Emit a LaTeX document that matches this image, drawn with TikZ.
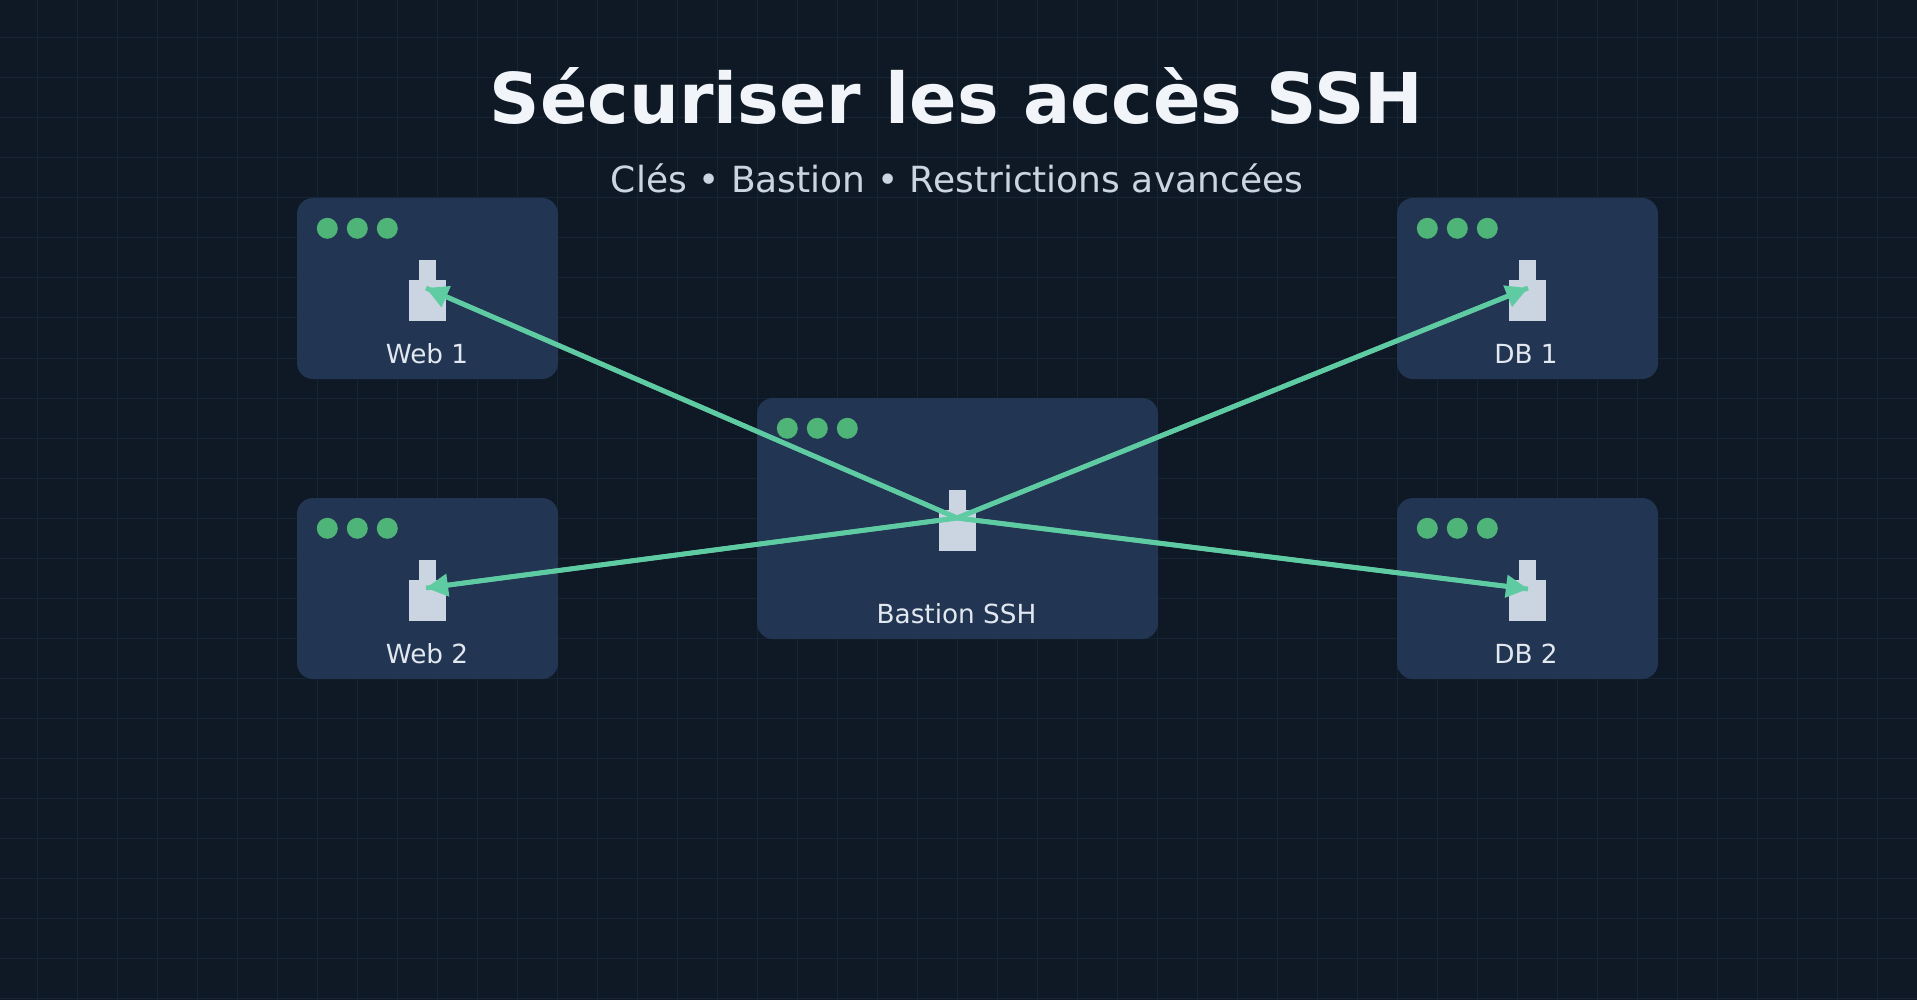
\documentclass[tikz,border=0pt]{standalone}
\usepackage{fontspec}
\setmainfont{DejaVu Sans}
\usetikzlibrary{arrows.meta}
\definecolor{bgc}{HTML}{0E1925}
\definecolor{gridc}{HTML}{162536}
\definecolor{boxc}{HTML}{223552}
\definecolor{dotc}{HTML}{4FB477}
\definecolor{iconc}{HTML}{CBD5E1}
\definecolor{linkc}{HTML}{5FCBA2}
\definecolor{titlec}{HTML}{F1F5F9}
\definecolor{labelc}{HTML}{E2E8F0}
\tikzset{
  x=1pt,y=-1pt,
  hostbox/.style={fill=boxc,rounded corners=16pt,draw=none},
  led/.style={circle,fill=dotc,minimum size=21pt,inner sep=0pt,draw=none},
  iconpart/.style={fill=iconc,draw=none},
  hostlabel/.style={text=labelc,anchor=base,font=\fontsize{26.3}{30}\selectfont,inner sep=0pt},
  link/.style={draw=linkc,line width=4.8pt,postaction={draw=linkc,line width=4.8pt,-{Triangle[length=22pt,width=22pt,fill=linkc]}}},
}
\newcommand{\hostat}[7]{% name, left, top, right, bottom, icon-left, icon-top
  \fill[hostbox] (#2,#3) rectangle (#4,#5);
  \foreach \k in {0,1,2} \node[led] (#1dot\k) at ({#2+30.3+30*\k},{#3+30.3}) {};
  \fill[iconpart] (#6+10,#7) rectangle (#6+27,#7+20);
  \fill[iconpart] (#6,#7+20) rectangle (#6+37,#7+61);
}
\begin{document}
\begin{tikzpicture}
\useasboundingbox (0,0) rectangle (1917,1000);
\fill[bgc] (0,0) rectangle (1917,1000);
\foreach \i in {-1,...,48} \draw[gridc,line width=1pt] ({37.5+40*\i},0) -- ({37.5+40*\i},1000);
\foreach \j in {-1,...,25} \draw[gridc,line width=1pt] (0,{38+40*\j}) -- (1917,{38+40*\j});
\node[text=titlec,anchor=base,inner sep=0pt,font=\fontsize{70}{82}\selectfont\bfseries] (title) at (956.5,123.5) {Sécuriser les accès SSH};
\node[text=iconc,anchor=base,inner sep=0pt,font=\fontsize{36}{44}\selectfont] (subtitle) at (957,192.5) {Clés • Bastion • Restrictions avancées};
\hostat{webone}{297}{198}{558}{379}{409}{260}
\hostat{webtwo}{297}{498}{558}{679}{409}{560}
\hostat{dbone}{1397}{198}{1658}{379}{1509}{260}
\hostat{dbtwo}{1397}{498}{1658}{679}{1509}{560}
\hostat{bast}{757}{398}{1158}{639}{939}{490}
\node[hostlabel] (lwebone) at (427,363) {Web 1};
\node[hostlabel] (lwebtwo) at (427,663) {Web 2};
\node[hostlabel] (ldbone) at (1526,363) {DB 1};
\node[hostlabel] (ldbtwo) at (1526,663) {DB 2};
\node[hostlabel] (lbast) at (956.5,623) {Bastion SSH};
\coordinate (hub) at (957,518);
\coordinate (twebone) at (426,288);
\coordinate (twebtwo) at (426,588);
\coordinate (tdbone) at (1528,288);
\coordinate (tdbtwo) at (1528,589);
\draw[link] (hub) -- (twebone);
\draw[link] (hub) -- (twebtwo);
\draw[link] (hub) -- (tdbone);
\draw[link] (hub) -- (tdbtwo);
\end{tikzpicture}
\end{document}
